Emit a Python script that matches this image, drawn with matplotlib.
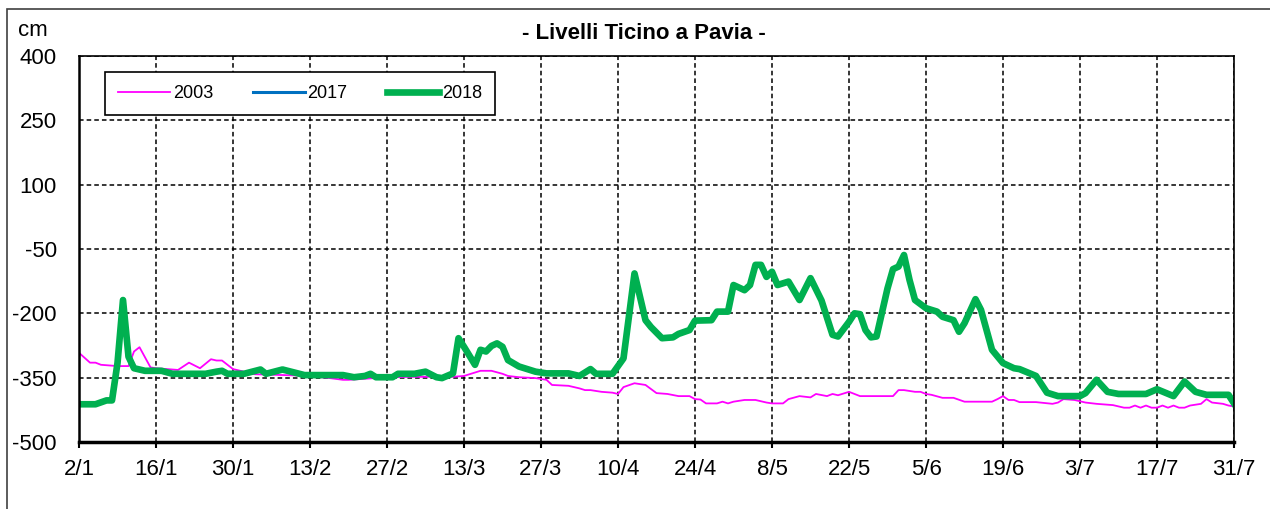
import matplotlib
matplotlib.use("Agg")
import matplotlib.pyplot as plt
from matplotlib.patches import Rectangle

plt.rcParams['font.family'] = ['Liberation Sans', 'DejaVu Sans']
plt.rcParams['axes.unicode_minus'] = False

# days counted from 2/1
days_2018 = [0, 3, 5, 6, 7, 8, 9, 10, 12, 15, 17, 23, 25, 26, 27, 30, 33, 34, 37, 41,
             48, 50, 52, 53, 54, 57, 58, 61, 63, 65, 66, 68, 69, 70, 72, 73, 74, 75, 76, 77,
             78, 80, 83, 85, 89, 91, 93, 94, 97, 99, 101, 103, 104, 106, 108, 109, 111, 112, 115, 116,
             118, 119, 121, 122, 123, 124, 125, 126, 127, 129, 131, 133, 135, 137, 138, 140, 141, 142, 143, 144,
             145, 147, 148, 149, 150, 151, 152, 154, 156, 157, 159, 160, 161, 163, 164, 166, 168, 170, 171, 174,
             176, 178, 182, 183, 185, 187, 189, 194, 196, 199, 201, 203, 205, 209, 210]
lev_2018 = [-412, -412, -403, -403, -316, -169, -301, -328, -334, -334, -341, -341, -336, -334, -341, -341, -331, -341, -331, -344,
            -344, -349, -346, -341, -349, -349, -341, -341, -336, -349, -351, -340, -258, -278, -320, -285, -289, -276, -270, -278,
            -309, -324, -336, -340, -340, -346, -330, -341, -341, -305, -107, -216, -232, -258, -256, -248, -239, -217, -216, -196,
            -196, -134, -146, -134, -87, -87, -115, -103, -134, -126, -169, -118, -170, -250, -254, -220, -200, -202, -239, -256,
            -254, -142, -97, -91, -64, -122, -169, -188, -196, -208, -216, -243, -223, -167, -192, -285, -316, -328, -330, -346,
            -385, -393, -393, -386, -355, -383, -388, -388, -377, -393, -359, -383, -390, -390, -410]

days_2003 = [0, 2, 3, 4, 7, 9, 10, 11, 13, 14, 18, 20, 22, 24, 25, 26, 28, 32, 40, 45,
             48, 49, 55, 60, 68, 70, 72, 73, 75, 77, 78, 80, 83, 85, 86, 89, 91, 92, 93, 95,
             97, 98, 99, 101, 103, 105, 107, 109, 111, 112, 113, 114, 116, 117, 118, 119, 121, 123, 125, 126,
             128, 129, 131, 133, 134, 136, 137, 138, 140, 142, 148, 149, 150, 152, 153, 154, 155, 157, 159, 161,
             166, 167, 168, 169, 170, 171, 174, 177, 178, 179, 181, 183, 185, 188, 190, 191, 192, 193, 194, 195,
             196, 197, 198, 199, 200, 201, 202, 204, 205, 206, 208, 209, 210]
lev_2003 = [-292, -315, -315, -320, -323, -323, -289, -279, -326, -328, -332, -315, -328, -307, -310, -310, -330, -342, -345, -350,
            -355, -355, -350, -348, -348, -346, -338, -334, -334, -341, -346, -349, -351, -355, -367, -369, -375, -379, -379, -383,
            -385, -388, -372, -363, -367, -386, -388, -393, -393, -400, -401, -410, -410, -406, -410, -406, -402, -402, -408, -410,
            -410, -400, -393, -396, -388, -393, -388, -391, -383, -393, -393, -379, -379, -383, -383, -388, -390, -397, -397, -406,
            -406, -400, -393, -402, -402, -407, -407, -411, -408, -400, -402, -408, -411, -414, -420, -420, -415, -420, -415, -420,
            -420, -415, -420, -415, -420, -420, -415, -411, -400, -408, -411, -415, -417]

# 2017 has no visible values in the chart (legend entry only)
days_2017 = []
lev_2017 = []

tick_days = list(range(0, 211, 14))
tick_labels = ['2/1', '16/1', '30/1', '13/2', '27/2', '13/3', '27/3', '10/4',
               '24/4', '8/5', '22/5', '5/6', '19/6', '3/7', '17/7', '31/7']
y_ticks = [-500, -350, -200, -50, 100, 250, 400]

fig = plt.figure(figsize=(12.7, 5.09), dpi=100)
ax = fig.add_axes([79/1270, 1-442/509, 1155/1270, 386/509])

ax.plot(days_2003, lev_2003, color='#FF00FF', lw=1.3, label='2003')
ax.plot(days_2017, lev_2017, color='#0070C0', lw=2.2, label='2017')
ax.plot(days_2018, lev_2018, color='#00B050', lw=4.8, label='2018')

ax.set_xlim(0, 210)
ax.set_ylim(-500, 400)
ax.set_xticks(tick_days)
ax.set_xticklabels(tick_labels)
ax.set_yticks(y_ticks)
ax.grid(True, color='black', linestyle=(0, (3, 2)), lw=1.1)
ax.tick_params(axis='x', direction='out', length=4, width=1.5, pad=8, labelsize=16)
ax.tick_params(axis='y', length=0, pad=16, labelsize=16)

ax.spines['left'].set_linewidth(1.8)
ax.spines['bottom'].set_linewidth(2.5)
ax.spines['top'].set_linewidth(1.2)
ax.spines['right'].set_linewidth(1.2)

leg = ax.legend(loc='upper left', bbox_to_anchor=(0.0225, 0.858, 390/1155, 0.1),
                mode='expand', ncol=3, fontsize=13,
                frameon=True, fancybox=False, edgecolor='black', framealpha=1,
                handlelength=2.9, handletextpad=0.15, columnspacing=1.6,
                borderpad=0.72, borderaxespad=0)
leg.get_frame().set_linewidth(1.2)

fig.text(0.507, 0.935, '- Livelli Ticino a Pavia -', ha='center', va='center',
         fontsize=16, fontweight='bold')
fig.text(18/1270, 0.94, 'cm', ha='left', va='center', fontsize=16)

fig.patches.append(Rectangle((7/1270, -0.1), 1.0, 1-9/509+0.1, transform=fig.transFigure,
                             fill=False, edgecolor='#404040', lw=1.2))

fig.savefig('out.png', dpi=100)
